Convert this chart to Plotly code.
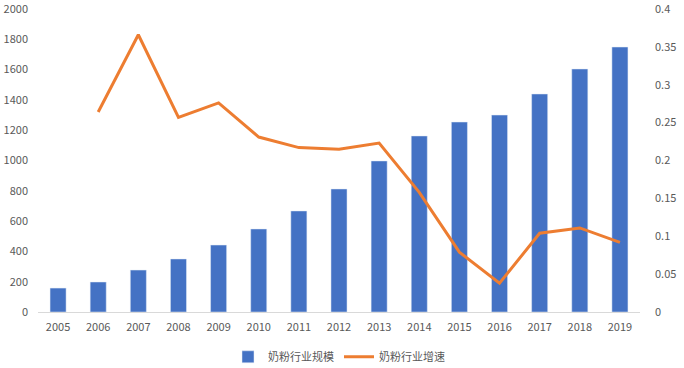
import plotly.graph_objects as go

years = [str(y) for y in range(2005, 2020)]
scale = [158, 198, 277, 350, 442, 548, 667, 812, 997, 1162, 1254, 1300, 1439, 1604, 1749]
growth = [None, 0.264, 0.366, 0.257, 0.276, 0.231, 0.217, 0.215, 0.223, 0.158, 0.079, 0.038, 0.104, 0.111, 0.092]

fig = go.Figure()
fig.add_trace(go.Bar(x=years, y=scale, name="奶粉行业规模", marker_color="#4472C4", yaxis="y"))
fig.add_trace(go.Scatter(x=years, y=growth, name="奶粉行业增速", mode="lines",
                         line=dict(color="#ED7D31", width=3), yaxis="y2", connectgaps=False))

font = dict(family="Noto Sans CJK SC, Noto Sans, sans-serif", size=11, color="#595959")
fig.update_layout(
    width=684, height=368,
    margin=dict(l=38, r=44, t=9, b=56, autoexpand=False),
    paper_bgcolor="white", plot_bgcolor="white",
    font=font,
    bargap=0.6,
    showlegend=True,
    legend=dict(orientation="h", x=0.5, xanchor="center", y=-0.1, yanchor="top",
                font=dict(size=11, color="#595959")),
    xaxis=dict(type="category", showgrid=False, showline=True, linecolor="#D9D9D9",
               linewidth=1, ticks="outside", ticklen=5, tickcolor="rgba(0,0,0,0)", tickfont=font),
    yaxis=dict(range=[0, 2000], dtick=200, showgrid=False, zeroline=False, showline=False,
               ticks="", tickfont=font, ticklabeloverflow="allow", ticklabelstandoff=9),
    yaxis2=dict(range=[0, 0.4], dtick=0.05, overlaying="y", side="right", showgrid=False,
                zeroline=False, showline=False, ticks="", tickfont=font, ticklabeloverflow="allow",
                ticklabelstandoff=14),
)
fig.write_html("out.html", config={"displayModeBar": False},
               post_script="document.body.style.margin='0';document.body.style.overflow='hidden';")
